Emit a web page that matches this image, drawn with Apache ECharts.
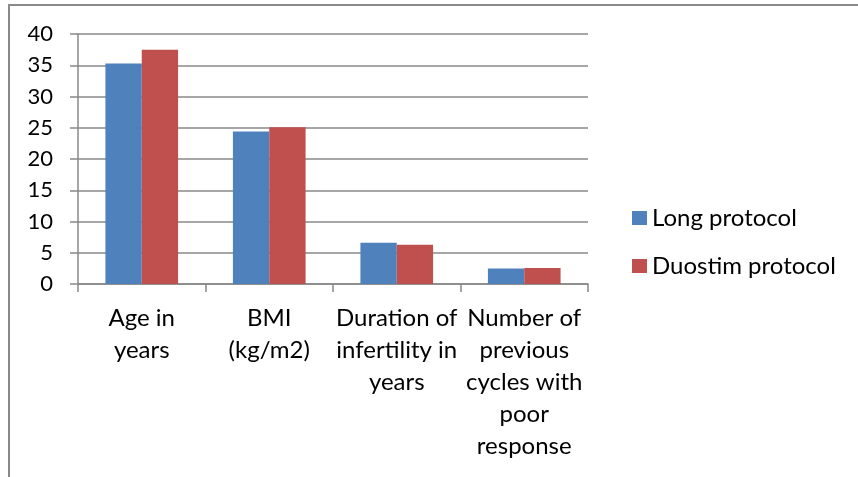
<!DOCTYPE html>
<html>
<head>
<meta charset="utf-8">
<script src="https://cdn.jsdelivr.net/npm/echarts@6/dist/echarts.min.js"></script>
<style>
html,body{margin:0;padding:0;background:#fff;}
#wrap{position:relative;width:858px;height:477px;overflow:hidden;}
#chart{position:absolute;left:0;top:0;width:858px;height:477px;}
#frame{position:absolute;left:8px;top:4px;width:900px;height:520px;border-top:2px solid #8a8a8a;border-left:2px solid #8a8a8a;pointer-events:none;}
</style>
</head>
<body>
<div id="wrap"><div id="chart"></div><div id="frame"></div></div>
<script>
const categories = ['Age in\nyears', 'BMI\n(kg/m2)', 'Duration of\ninfertility in\nyears', 'Number of\nprevious\ncycles with\npoor\nresponse'];
const longProtocol = [35.3, 24.4, 6.6, 2.5];
const duostimProtocol = [37.5, 25.1, 6.3, 2.55];
const seriesNames = ['Long protocol', 'Duostim protocol'];
const yTicks = {min: 0, max: 40, interval: 5};

const FONT = 'Lato';
const chart = echarts.init(document.getElementById('chart'), null, {renderer: 'canvas'});
chart.setOption({
  animation: false,
  backgroundColor: '#fff',
  textStyle: {fontFamily: FONT},
  grid: {left: 78, right: 270, top: 34, bottom: 193, containLabel: false},
  legend: {
    orient: 'vertical',
    left: 632,
    top: 206,
    padding: 0,
    itemWidth: 15,
    itemHeight: 14,
    itemGap: 24,
    icon: 'rect',
    textStyle: {fontFamily: FONT, fontSize: 24, color: '#000'},
    data: seriesNames
  },
  xAxis: {
    type: 'category',
    data: categories,
    axisLine: {show: true, lineStyle: {color: '#888', width: 1.5}},
    axisTick: {show: true, length: 8, lineStyle: {color: '#888', width: 1.5}},
    axisLabel: {fontFamily: FONT, fontSize: 24, color: '#000', lineHeight: 32, margin: 18, interval: 0}
  },
  yAxis: {
    type: 'value',
    min: yTicks.min, max: yTicks.max, interval: yTicks.interval,
    axisLine: {show: true, lineStyle: {color: '#888', width: 1.5}},
    axisTick: {show: true, length: 8, lineStyle: {color: '#888', width: 1.5}},
    splitLine: {show: true, lineStyle: {color: '#888', width: 1.5}},
    axisLabel: {fontFamily: FONT, fontSize: 22, color: '#000', margin: 25}
  },
  series: [
    {name: seriesNames[0], type: 'bar', data: longProtocol, barGap: '0%', barCategoryGap: '43%',
     itemStyle: {color: '#4F81BD'}},
    {name: seriesNames[1], type: 'bar', data: duostimProtocol, barGap: '0%', barCategoryGap: '43%',
     itemStyle: {color: '#C0504D'}}
  ]
});
</script>
</body>
</html>
